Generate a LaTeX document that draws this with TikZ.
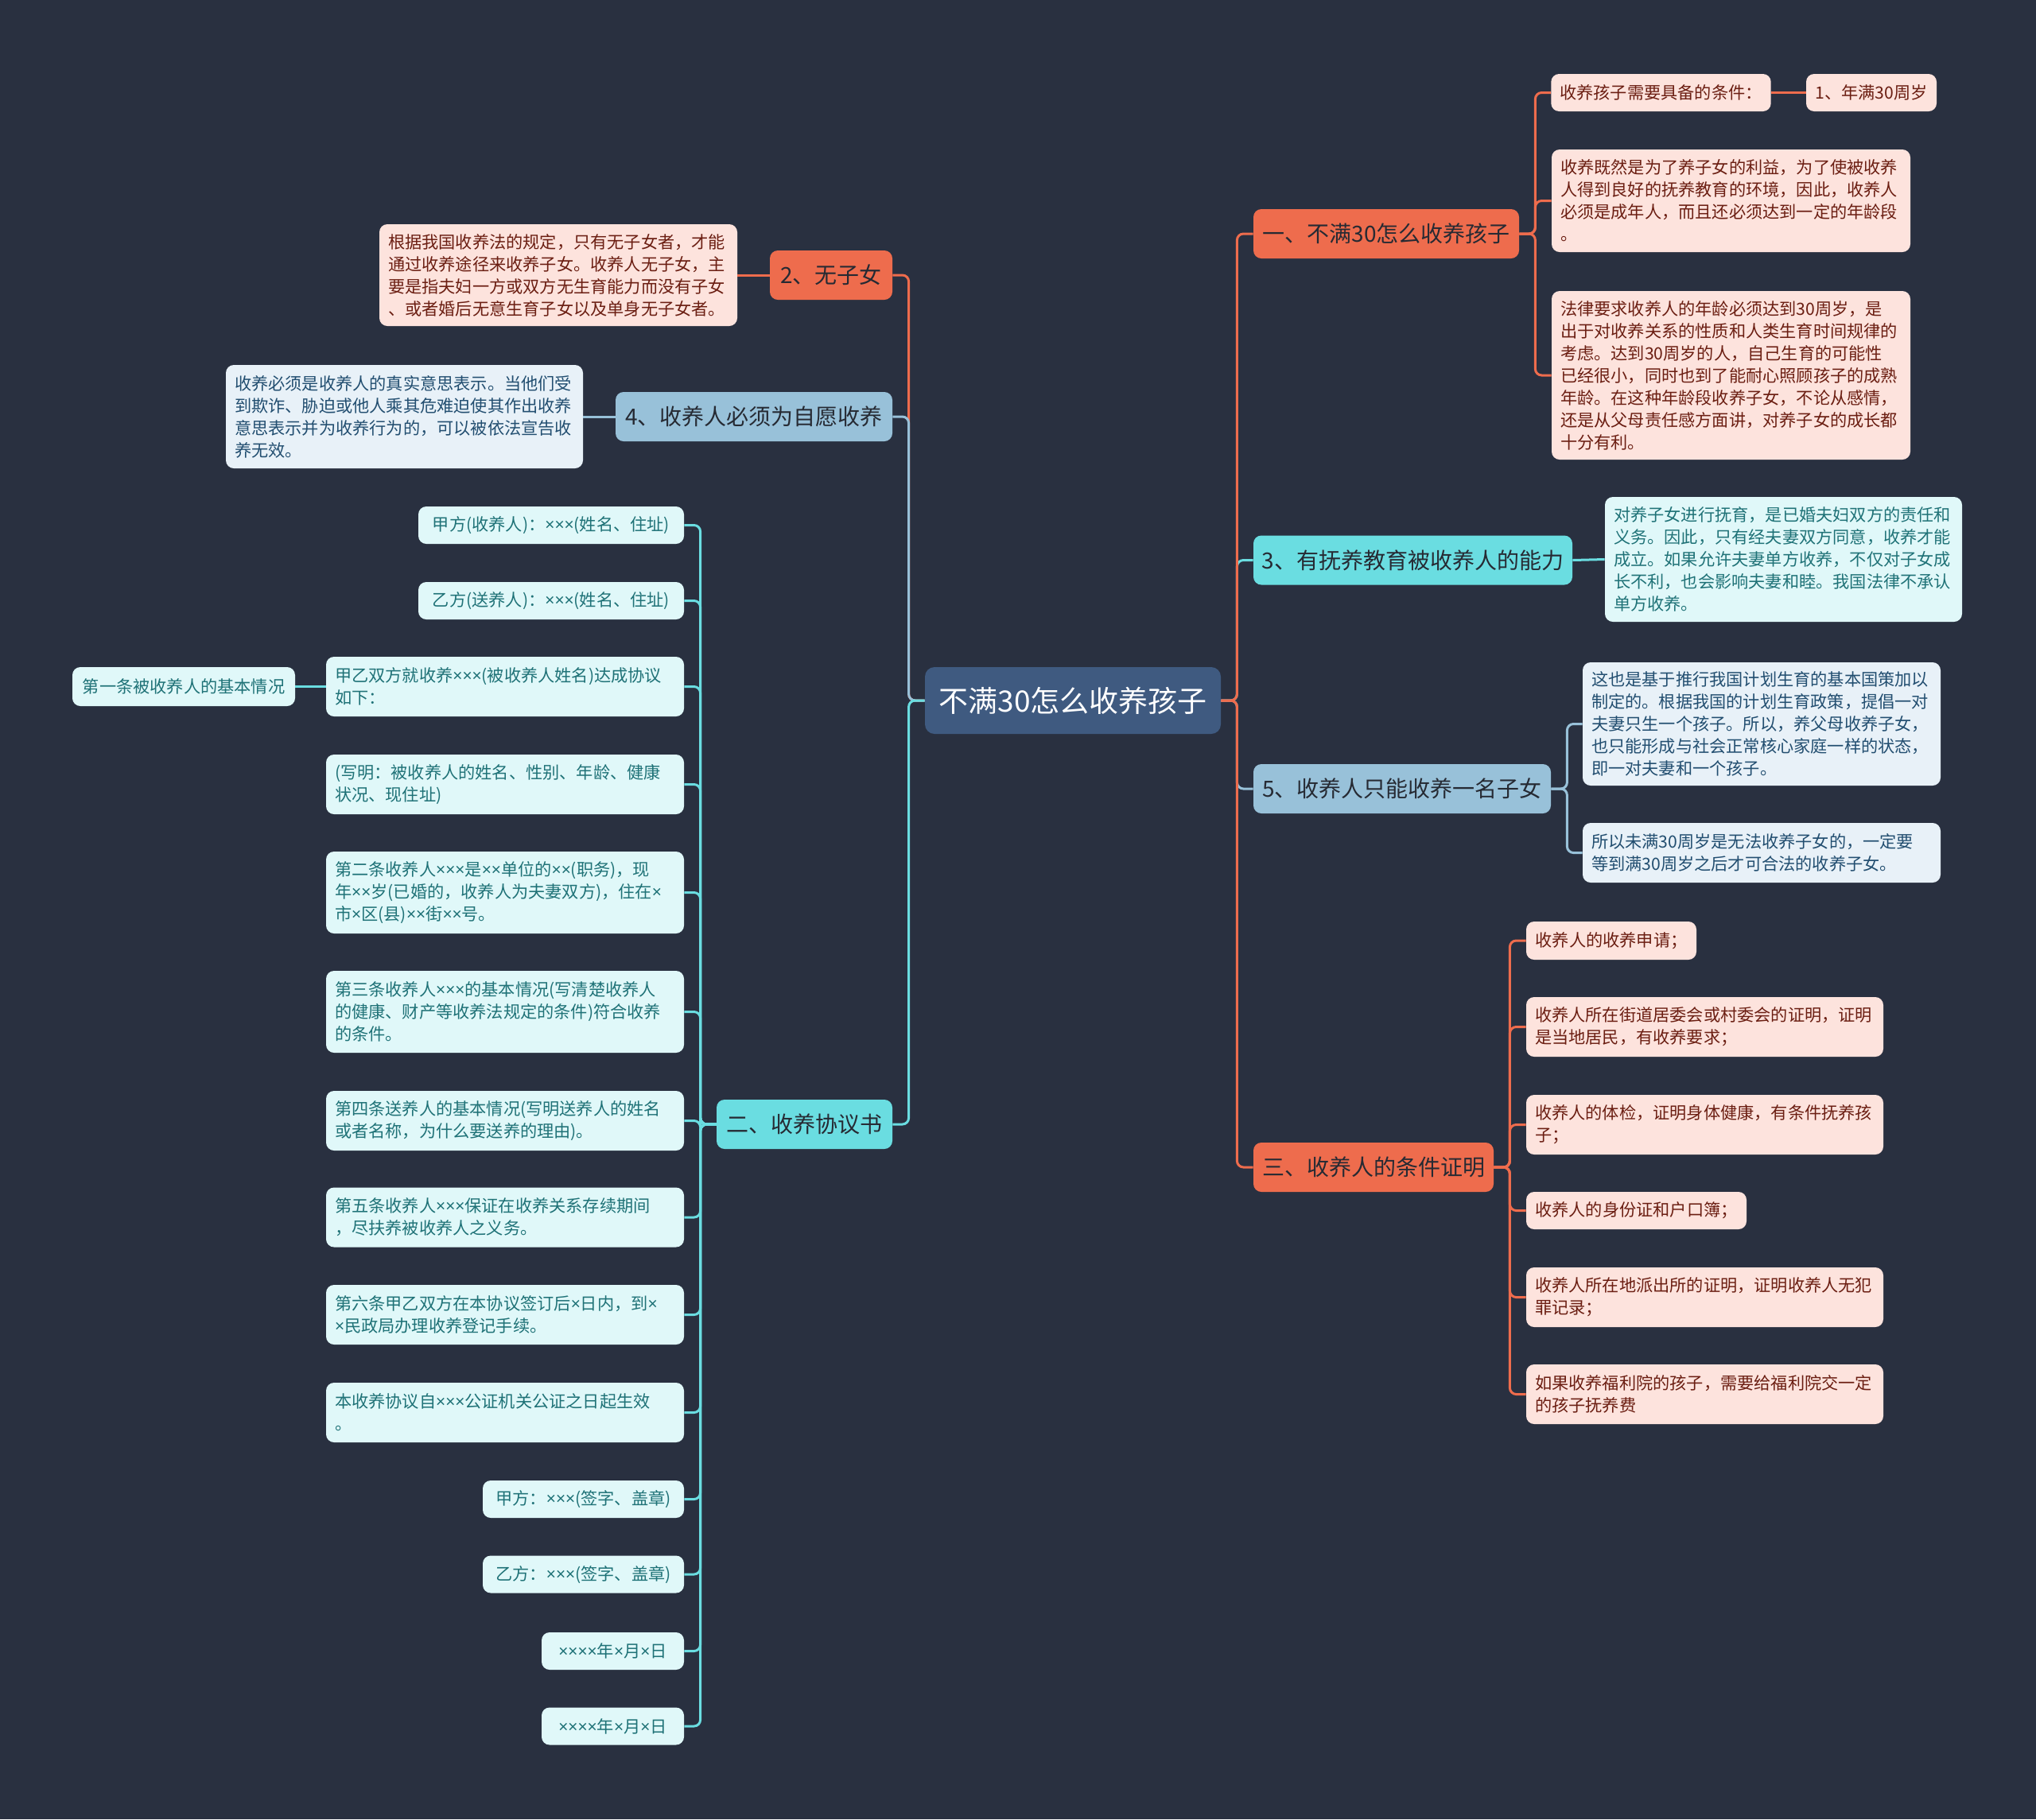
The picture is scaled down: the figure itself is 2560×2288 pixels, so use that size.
\documentclass[tikz,border=0pt]{standalone}
\usepackage{fontspec}
\newfontfamily\cjk{Noto Sans CJK SC}
\newfontfamily\latinx{Noto Sans}
\newcommand\tms{{\latinx ×}}

\definecolor{bgnavy}{HTML}{293040}
\definecolor{rootfill}{HTML}{3F5A80}
\definecolor{mmcoral}{HTML}{EE6C4D}
\definecolor{mmcyan}{HTML}{6ADDE1}
\definecolor{mmblue}{HTML}{98C1D9}
\definecolor{topictext}{HTML}{262A33}
\definecolor{pinkfill}{HTML}{FDE3DD}
\definecolor{pinktext}{HTML}{6B1E12}
\definecolor{cyanfill}{HTML}{E0F8F9}
\definecolor{cyantext}{HTML}{1F7277}
\definecolor{bluefill}{HTML}{E8F1F8}
\definecolor{bluetext}{HTML}{224E70}

\begin{document}
\begin{tikzpicture}[x=0.5pt,y=-0.5pt]

\def\gap{10pt}
\tikzstyle{box} = [rounded corners=5pt, inner xsep=5.5pt, inner ysep=4pt,
	align=left, font=\cjk\fontsize{10.6}{14}\selectfont];
\tikzstyle{pinkleaf} = [box, fill=pinkfill, text=pinktext];
\tikzstyle{cyanleaf} = [box, fill=cyanfill, text=cyantext];
\tikzstyle{blueleaf} = [box, fill=bluefill, text=bluetext];
\tikzstyle{topic} = [rounded corners=5pt, align=center, minimum height=31pt,
	inner xsep=4pt, text=topictext, font=\cjk\fontsize{14}{17}\selectfont];
\tikzstyle{link} = [line width=1.5pt, rounded corners=4pt];

\fill[bgnavy] (0,0) rectangle (2560,2288);
\useasboundingbox (0,0) rectangle (2560,2288);

\node[rounded corners=6pt, fill=rootfill, text=white, minimum width=186pt,
	minimum height=42pt, font=\cjk\fontsize{18.5}{22}\selectfont] (root) at (1349,881) {不满30怎么收养孩子};

\node[topic, fill=mmcoral, minimum width=167pt] (r1) at (1743,294) {一、不满30怎么收养孩子};
\node[topic, fill=mmcyan, minimum width=200.5pt] (r3) at (1776.5,704.5) {3、有抚养教育被收养人的能力};
\node[topic, fill=mmblue, minimum width=187pt] (r5) at (1763,992) {5、收养人只能收养一名子女};
\node[topic, fill=mmcoral, minimum width=151pt] (r6) at (1727,1468) {三、收养人的条件证明};
\node[topic, fill=mmcoral, minimum width=77pt] (l2) at (1045,346) {2、无子女};
\node[topic, fill=mmblue, minimum width=174pt] (l4) at (948,524) {4、收养人必须为自愿收养};
\node[topic, fill=mmcyan, minimum width=110.5pt] (l1) at (1011.5,1414) {二、收养协议书};

\node[pinkleaf, minimum width=137.5pt, minimum height=23.5pt] (r1a) at (2088.5,116.5) {收养孩子需要具备的条件：};
\node[pinkleaf, minimum width=82pt, minimum height=23.5pt] (r1b) at (2353,116.5) {1、年满30周岁};
\node[pinkleaf, text width=214.5pt, minimum height=64.5pt] (r1c) at (2176.5,252.5) {收养既然是为了养子女的利益，为了使被收养\\人得到良好的抚养教育的环境，因此，收养人\\必须是成年人，而且还必须达到一定的年龄段\\。};
\node[pinkleaf, text width=214.5pt, minimum height=106pt] (r1d) at (2176.5,472) {法律要求收养人的年龄必须达到30周岁，是\\出于对收养关系的性质和人类生育时间规律的\\考虑。达到30周岁的人，自己生育的可能性\\已经很小，同时也到了能耐心照顾孩子的成熟\\年龄。在这种年龄段收养子女，不论从感情，\\还是从父母责任感方面讲，对养子女的成长都\\十分有利。};

\node[cyanleaf, text width=213.5pt, minimum height=78.5pt] (r3a) at (2242.5,703.5) {对养子女进行抚育，是已婚夫妇双方的责任和\\义务。因此，只有经夫妻双方同意，收养才能\\成立。如果允许夫妻单方收养，不仅对子女成\\长不利，也会影响夫妻和睦。我国法律不承认\\单方收养。};

\node[blueleaf, text width=214pt, minimum height=77.5pt] (r5a) at (2215,910.5) {这也是基于推行我国计划生育的基本国策加以\\制定的。根据我国的计划生育政策，提倡一对\\夫妻只生一个孩子。所以，养父母收养子女，\\也只能形成与社会正常核心家庭一样的状态，\\即一对夫妻和一个孩子。};
\node[blueleaf, text width=214pt, minimum height=37.5pt] (r5b) at (2215,1072.5) {所以未满30周岁是无法收养子女的，一定要\\等到满30周岁之后才可合法的收养子女。};

\node[pinkleaf, minimum width=107pt, minimum height=24pt] (r6a) at (2026,1183) {收养人的收养申请；};
\node[pinkleaf, text width=213.5pt, minimum height=37.5pt] (r6b) at (2143.5,1291.5) {收养人所在街道居委会或村委会的证明，证明\\是当地居民，有收养要求；};
\node[pinkleaf, text width=213.5pt, minimum height=37.5pt] (r6c) at (2143.5,1414.5) {收养人的体检，证明身体健康，有条件抚养孩\\子；};
\node[pinkleaf, minimum width=138.5pt, minimum height=23.5pt] (r6d) at (2057.5,1522.5) {收养人的身份证和户口簿；};
\node[pinkleaf, text width=213.5pt, minimum height=37.5pt] (r6e) at (2143.5,1631.5) {收养人所在地派出所的证明，证明收养人无犯\\罪记录；};
\node[pinkleaf, text width=213.5pt, minimum height=37.5pt] (r6f) at (2143.5,1753.5) {如果收养福利院的孩子，需要给福利院交一定\\的孩子抚养费};

\node[pinkleaf, text width=214pt, minimum height=64pt] (l2a) at (702,346) {根据我国收养法的规定，只有无子女者，才能\\通过收养途径来收养子女。收养人无子女，主\\要是指夫妇一方或双方无生育能力而没有子女\\、或者婚后无意生育子女以及单身无子女者。};
\node[blueleaf, text width=213.5pt, minimum height=65pt] (l4a) at (508.5,524) {收养必须是收养人的真实意思表示。当他们受\\到欺诈、胁迫或他人乘其危难迫使其作出收养\\意思表示并为收养行为的，可以被依法宣告收\\养无效。};

\node[cyanleaf, minimum width=167pt, minimum height=23.5pt] (l1a) at (693,660.5) {甲方(收养人)：\tms\tms\tms(姓名、住址)};
\node[cyanleaf, minimum width=167pt, minimum height=23.5pt] (l1b) at (693,755.5) {乙方(送养人)：\tms\tms\tms(姓名、住址)};
\node[cyanleaf, text width=214pt, minimum height=37.5pt] (l1c) at (635,863.5) {甲乙双方就收养\tms\tms\tms(被收养人姓名)达成协议\\如下：};
\node[cyanleaf, minimum width=140pt, minimum height=24.5pt] (l1c1) at (231,863.5) {第一条被收养人的基本情况};
\node[cyanleaf, text width=214pt, minimum height=37.5pt] (l1d) at (635,986.5) {(写明：被收养人的姓名、性别、年龄、健康\\状况、现住址)};
\node[cyanleaf, text width=214pt, minimum height=51.5pt] (l1e) at (635,1122.5) {第二条收养人\tms\tms\tms 是\tms\tms 单位的\tms\tms(职务)，现\\年\tms\tms 岁(已婚的，收养人为夫妻双方)，住在\tms\\市\tms 区(县)\tms\tms 街\tms\tms 号。};
\node[cyanleaf, text width=214pt, minimum height=51.5pt] (l1f) at (635,1272.5) {第三条收养人\tms\tms\tms 的基本情况(写清楚收养人\\的健康、财产等收养法规定的条件)符合收养\\的条件。};
\node[cyanleaf, text width=214pt, minimum height=37.5pt] (l1g) at (635,1409.5) {第四条送养人的基本情况(写明送养人的姓名\\或者名称，为什么要送养的理由)。};
\node[cyanleaf, text width=214pt, minimum height=37.5pt] (l1h) at (635,1531) {第五条收养人\tms\tms\tms 保证在收养关系存续期间\\，尽扶养被收养人之义务。};
\node[cyanleaf, text width=214pt, minimum height=37.5pt] (l1i) at (635,1653.5) {第六条甲乙双方在本协议签订后\tms 日内，到\tms\\\tms 民政局办理收养登记手续。};
\node[cyanleaf, text width=214pt, minimum height=37.5pt] (l1j) at (635,1776.5) {本收养协议自\tms\tms\tms 公证机关公证之日起生效\\。};
\node[cyanleaf, minimum width=126.5pt, minimum height=23.5pt] (l1k) at (733.5,1885.5) {甲方：\tms\tms\tms(签字、盖章)};
\node[cyanleaf, minimum width=126.5pt, minimum height=23.5pt] (l1l) at (733.5,1980) {乙方：\tms\tms\tms(签字、盖章)};
\node[cyanleaf, minimum width=89.5pt, minimum height=23.5pt] (l1m) at (770.5,2076.5) {\tms\tms\tms\tms 年\tms 月\tms 日};
\node[cyanleaf, minimum width=89.5pt, minimum height=23.5pt] (l1n) at (770.5,2171) {\tms\tms\tms\tms 年\tms 月\tms 日};

\draw[link, mmcyan] (root.east) -- ++(\gap,0) |- (r3.west);
\draw[link, mmblue] (root.east) -- ++(\gap,0) |- (r5.west);
\draw[link, mmcoral] (root.east) -- ++(\gap,0) |- (r1.west);
\draw[link, mmcoral] (root.east) -- ++(\gap,0) |- (r6.west);
\draw[link, mmcoral] (root.west) -- ++(-\gap,0) |- (l2.east);
\draw[link, mmblue] (root.west) -- ++(-\gap,0) |- (l4.east);
\draw[link, mmcyan] (root.west) -- ++(-\gap,0) |- (l1.east);

\draw[link, mmcoral] (r1.east) -- ++(\gap,0) |- (r1a.west);
\draw[link, mmcoral] (r1.east) -- ++(\gap,0) |- (r1c.west);
\draw[link, mmcoral] (r1.east) -- ++(\gap,0) |- (r1d.west);
\draw[link, mmcoral] (r1a.east) -- (r1b.west);
\draw[link, mmcyan] (r3.east) -- (r3a.west);
\draw[link, mmblue] (r5.east) -- ++(\gap,0) |- (r5a.west);
\draw[link, mmblue] (r5.east) -- ++(\gap,0) |- (r5b.west);
\draw[link, mmcoral] (r6.east) -- ++(\gap,0) |- (r6a.west);
\draw[link, mmcoral] (r6.east) -- ++(\gap,0) |- (r6b.west);
\draw[link, mmcoral] (r6.east) -- ++(\gap,0) |- (r6c.west);
\draw[link, mmcoral] (r6.east) -- ++(\gap,0) |- (r6d.west);
\draw[link, mmcoral] (r6.east) -- ++(\gap,0) |- (r6e.west);
\draw[link, mmcoral] (r6.east) -- ++(\gap,0) |- (r6f.west);

\draw[link, mmcoral] (l2.west) -- (l2a.east);
\draw[link, mmblue] (l4.west) -- (l4a.east);
\draw[link, mmcyan] (l1.west) -- ++(-\gap,0) |- (l1a.east);
\draw[link, mmcyan] (l1.west) -- ++(-\gap,0) |- (l1b.east);
\draw[link, mmcyan] (l1.west) -- ++(-\gap,0) |- (l1c.east);
\draw[link, mmcyan] (l1.west) -- ++(-\gap,0) |- (l1d.east);
\draw[link, mmcyan] (l1.west) -- ++(-\gap,0) |- (l1e.east);
\draw[link, mmcyan] (l1.west) -- ++(-\gap,0) |- (l1f.east);
\draw[link, mmcyan] (l1.west) -- ++(-\gap,0) |- (l1g.east);
\draw[link, mmcyan] (l1.west) -- ++(-\gap,0) |- (l1h.east);
\draw[link, mmcyan] (l1.west) -- ++(-\gap,0) |- (l1i.east);
\draw[link, mmcyan] (l1.west) -- ++(-\gap,0) |- (l1j.east);
\draw[link, mmcyan] (l1.west) -- ++(-\gap,0) |- (l1k.east);
\draw[link, mmcyan] (l1.west) -- ++(-\gap,0) |- (l1l.east);
\draw[link, mmcyan] (l1.west) -- ++(-\gap,0) |- (l1m.east);
\draw[link, mmcyan] (l1.west) -- ++(-\gap,0) |- (l1n.east);
\draw[link, mmcyan] (l1c.west) -- (l1c1.east);

\end{tikzpicture}
\end{document}
